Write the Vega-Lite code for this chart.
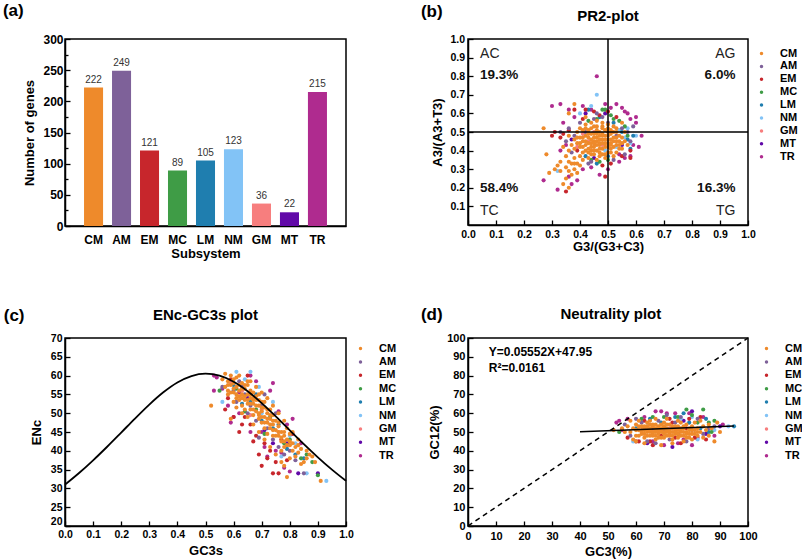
{
"$schema":"https://vega.github.io/schema/vega-lite/v6.json",
"padding":{"left":2,"top":1,"right":0,"bottom":0},
"background":"white",
"columns":2,
"bounds":"flush",
"spacing":{"row":112,"column":122},
"resolve":{"scale":{"color":"independent"},"legend":{"color":"independent"}},
"config":{
 "font":"Liberation Sans",
 "view":{"stroke":"#000","strokeWidth":1.5},
 "axis":{"grid":false,"domainColor":"#000","domainWidth":1.5,"tickColor":"#000","tickWidth":1.3,"tickSize":-5,"labelFont":"Liberation Sans","labelFontWeight":"bold","labelFontSize":10.5,"labelColor":"#000","labelPadding":8,"labelFlush":false,"labelOverlap":false,"titleFont":"Liberation Sans","titleFontWeight":"bold","titleFontSize":13,"titleColor":"#000"},
 "legend":{"labelFont":"Liberation Sans","labelFontWeight":"bold","labelFontSize":11,"labelColor":"#000","symbolType":"circle","symbolSize":12,"symbolStrokeWidth":0,"rowPadding":2,"labelOffset":13},
 "text":{"font":"Liberation Sans"}
},
"datasets":{
 "bars":[{"g":"CM","n":222},{"g":"AM","n":249},{"g":"EM","n":121},{"g":"MC","n":89},{"g":"LM","n":105},{"g":"NM","n":123},{"g":"GM","n":36},{"g":"MT","n":22},{"g":"TR","n":215}],
 "pr2":[
{"g":"TR","x":0.46,"y":0.80},{"g":"TR","x":0.30,"y":0.64},{"g":"TR","x":0.33,"y":0.65},{"g":"TR","x":0.36,"y":0.62},{"g":"TR","x":0.53,"y":0.65},{"g":"TR","x":0.55,"y":0.63},{"g":"TR","x":0.60,"y":0.58},{"g":"TR","x":0.62,"y":0.48},{"g":"TR","x":0.32,"y":0.19},{"g":"TR","x":0.27,"y":0.24},{"g":"TR","x":0.56,"y":0.61},{"g":"TR","x":0.58,"y":0.57},{"g":"TR","x":0.49,"y":0.65},{"g":"TR","x":0.34,"y":0.55},{"g":"TR","x":0.35,"y":0.43},{"g":"TR","x":0.39,"y":0.24},{"g":"TR","x":0.37,"y":0.22},{"g":"TR","x":0.47,"y":0.27},{"g":"TR","x":0.50,"y":0.30},{"g":"TR","x":0.54,"y":0.34},{"g":"TR","x":0.56,"y":0.36},{"g":"TR","x":0.58,"y":0.37},{"g":"TR","x":0.61,"y":0.42},{"g":"TR","x":0.60,"y":0.55},{"g":"TR","x":0.57,"y":0.60},{"g":"TR","x":0.51,"y":0.63},{"g":"TR","x":0.44,"y":0.62},{"g":"TR","x":0.41,"y":0.64},{"g":"TR","x":0.38,"y":0.58},{"g":"TR","x":0.33,"y":0.40},{"g":"TR","x":0.36,"y":0.26},{"g":"TR","x":0.41,"y":0.30},{"g":"TR","x":0.44,"y":0.31},{"g":"TR","x":0.54,"y":0.38},{"g":"TR","x":0.59,"y":0.43},
{"g":"MT","x":0.49,"y":0.60},{"g":"MT","x":0.42,"y":0.60},{"g":"MT","x":0.55,"y":0.43},{"g":"MT","x":0.37,"y":0.46},{"g":"MT","x":0.45,"y":0.36},
{"g":"GM","x":0.45,"y":0.50},{"g":"GM","x":0.43,"y":0.45},{"g":"GM","x":0.48,"y":0.43},{"g":"GM","x":0.41,"y":0.49},{"g":"GM","x":0.39,"y":0.42},
{"g":"NM","x":0.46,"y":0.70},{"g":"NM","x":0.44,"y":0.64},{"g":"NM","x":0.60,"y":0.48},{"g":"NM","x":0.32,"y":0.29},{"g":"NM","x":0.58,"y":0.44},{"g":"NM","x":0.54,"y":0.51},{"g":"NM","x":0.56,"y":0.47},{"g":"NM","x":0.40,"y":0.60},{"g":"NM","x":0.57,"y":0.52},{"g":"NM","x":0.53,"y":0.42},{"g":"NM","x":0.49,"y":0.40},
{"g":"LM","x":0.43,"y":0.62},{"g":"LM","x":0.58,"y":0.41},{"g":"LM","x":0.57,"y":0.46},{"g":"LM","x":0.55,"y":0.50},{"g":"LM","x":0.52,"y":0.55},{"g":"LM","x":0.47,"y":0.58},{"g":"LM","x":0.46,"y":0.33},{"g":"LM","x":0.50,"y":0.37},{"g":"LM","x":0.59,"y":0.48},{"g":"LM","x":0.42,"y":0.37},
{"g":"MC","x":0.48,"y":0.62},{"g":"MC","x":0.49,"y":0.62},{"g":"MC","x":0.52,"y":0.57},{"g":"MC","x":0.54,"y":0.56},{"g":"MC","x":0.44,"y":0.35},{"g":"MC","x":0.47,"y":0.34},{"g":"MC","x":0.50,"y":0.35},{"g":"MC","x":0.56,"y":0.53},{"g":"MC","x":0.57,"y":0.48},{"g":"MC","x":0.46,"y":0.57},{"g":"MC","x":0.43,"y":0.56},{"g":"MC","x":0.51,"y":0.59},
{"g":"EM","x":0.38,"y":0.62},{"g":"EM","x":0.42,"y":0.62},{"g":"EM","x":0.49,"y":0.26},{"g":"EM","x":0.35,"y":0.18},{"g":"EM","x":0.58,"y":0.36},{"g":"EM","x":0.58,"y":0.40},{"g":"EM","x":0.34,"y":0.49},{"g":"EM","x":0.33,"y":0.47},{"g":"EM","x":0.36,"y":0.51},{"g":"EM","x":0.45,"y":0.61},{"g":"EM","x":0.50,"y":0.61},{"g":"EM","x":0.51,"y":0.33},{"g":"EM","x":0.48,"y":0.32},{"g":"EM","x":0.41,"y":0.57},{"g":"EM","x":0.55,"y":0.37},{"g":"EM","x":0.39,"y":0.40},{"g":"EM","x":0.47,"y":0.59},{"g":"EM","x":0.31,"y":0.50},{"g":"EM","x":0.30,"y":0.48},{"g":"EM","x":0.53,"y":0.58},
{"g":"AM","x":0.42,"y":0.50},{"g":"AM","x":0.45,"y":0.57},{"g":"AM","x":0.50,"y":0.55},{"g":"AM","x":0.53,"y":0.48},{"g":"AM","x":0.55,"y":0.52},{"g":"AM","x":0.57,"y":0.50},{"g":"AM","x":0.48,"y":0.58},{"g":"AM","x":0.40,"y":0.55},{"g":"AM","x":0.38,"y":0.48},{"g":"AM","x":0.37,"y":0.39},{"g":"AM","x":0.44,"y":0.34},{"g":"AM","x":0.52,"y":0.35},{"g":"AM","x":0.56,"y":0.38},{"g":"AM","x":0.58,"y":0.45},{"g":"AM","x":0.59,"y":0.53},{"g":"AM","x":0.35,"y":0.45},{"g":"AM","x":0.33,"y":0.50},{"g":"AM","x":0.46,"y":0.60},{"g":"AM","x":0.43,"y":0.33},{"g":"AM","x":0.36,"y":0.52},
{"g":"CM","x":0.40,"y":0.42},{"g":"CM","x":0.41,"y":0.45},{"g":"CM","x":0.42,"y":0.40},{"g":"CM","x":0.42,"y":0.48},{"g":"CM","x":0.43,"y":0.44},{"g":"CM","x":0.43,"y":0.51},{"g":"CM","x":0.44,"y":0.38},{"g":"CM","x":0.44,"y":0.46},{"g":"CM","x":0.45,"y":0.42},{"g":"CM","x":0.45,"y":0.49},{"g":"CM","x":0.45,"y":0.53},{"g":"CM","x":0.46,"y":0.40},{"g":"CM","x":0.46,"y":0.45},{"g":"CM","x":0.46,"y":0.47},{"g":"CM","x":0.47,"y":0.43},{"g":"CM","x":0.47,"y":0.50},{"g":"CM","x":0.47,"y":0.37},{"g":"CM","x":0.48,"y":0.46},{"g":"CM","x":0.48,"y":0.41},{"g":"CM","x":0.48,"y":0.52},{"g":"CM","x":0.49,"y":0.44},{"g":"CM","x":0.49,"y":0.48},{"g":"CM","x":0.50,"y":0.42},{"g":"CM","x":0.50,"y":0.46},{"g":"CM","x":0.50,"y":0.39},{"g":"CM","x":0.51,"y":0.44},{"g":"CM","x":0.51,"y":0.49},{"g":"CM","x":0.52,"y":0.47},{"g":"CM","x":0.52,"y":0.42},{"g":"CM","x":0.53,"y":0.45},{"g":"CM","x":0.53,"y":0.50},{"g":"CM","x":0.54,"y":0.43},{"g":"CM","x":0.55,"y":0.47},{"g":"CM","x":0.44,"y":0.42},{"g":"CM","x":0.43,"y":0.47},{"g":"CM","x":0.41,"y":0.39},{"g":"CM","x":0.40,"y":0.47},{"g":"CM","x":0.39,"y":0.44},{"g":"CM","x":0.39,"y":0.50},{"g":"CM","x":0.38,"y":0.41},{"g":"CM","x":0.38,"y":0.46},{"g":"CM","x":0.37,"y":0.43},{"g":"CM","x":0.36,"y":0.40},{"g":"CM","x":0.36,"y":0.48},{"g":"CM","x":0.40,"y":0.52},{"g":"CM","x":0.42,"y":0.54},{"g":"CM","x":0.44,"y":0.55},{"g":"CM","x":0.46,"y":0.56},{"g":"CM","x":0.48,"y":0.55},{"g":"CM","x":0.50,"y":0.54},{"g":"CM","x":0.52,"y":0.53},{"g":"CM","x":0.49,"y":0.36},{"g":"CM","x":0.46,"y":0.35},{"g":"CM","x":0.43,"y":0.36},{"g":"CM","x":0.41,"y":0.35},{"g":"CM","x":0.40,"y":0.37},{"g":"CM","x":0.53,"y":0.39},{"g":"CM","x":0.55,"y":0.41},{"g":"CM","x":0.56,"y":0.45},{"g":"CM","x":0.57,"y":0.43},{"g":"CM","x":0.42,"y":0.43},{"g":"CM","x":0.45,"y":0.45},{"g":"CM","x":0.47,"y":0.46},{"g":"CM","x":0.44,"y":0.49},{"g":"CM","x":0.46,"y":0.51},{"g":"CM","x":0.48,"y":0.49},{"g":"CM","x":0.49,"y":0.51},{"g":"CM","x":0.51,"y":0.46},{"g":"CM","x":0.50,"y":0.50},{"g":"CM","x":0.47,"y":0.41},{"g":"CM","x":0.43,"y":0.41},{"g":"CM","x":0.41,"y":0.42},{"g":"CM","x":0.45,"y":0.38},{"g":"CM","x":0.48,"y":0.38},{"g":"CM","x":0.51,"y":0.41},{"g":"CM","x":0.52,"y":0.37},{"g":"CM","x":0.54,"y":0.48},{"g":"CM","x":0.53,"y":0.52},{"g":"CM","x":0.38,"y":0.36},{"g":"CM","x":0.37,"y":0.33},{"g":"CM","x":0.35,"y":0.37},{"g":"CM","x":0.39,"y":0.33},{"g":"CM","x":0.34,"y":0.42},{"g":"CM","x":0.27,"y":0.52},{"g":"CM","x":0.28,"y":0.38},{"g":"CM","x":0.29,"y":0.28},{"g":"CM","x":0.31,"y":0.30},{"g":"CM","x":0.32,"y":0.32},{"g":"CM","x":0.33,"y":0.29},{"g":"CM","x":0.34,"y":0.22},{"g":"CM","x":0.35,"y":0.25},{"g":"CM","x":0.36,"y":0.20},{"g":"CM","x":0.36,"y":0.29},{"g":"CM","x":0.37,"y":0.27},{"g":"CM","x":0.38,"y":0.30},{"g":"CM","x":0.39,"y":0.28},{"g":"CM","x":0.35,"y":0.31},{"g":"CM","x":0.33,"y":0.34},{"g":"CM","x":0.36,"y":0.34},{"g":"CM","x":0.38,"y":0.33},{"g":"CM","x":0.40,"y":0.32},{"g":"CM","x":0.38,"y":0.65},{"g":"CM","x":0.36,"y":0.60},{"g":"CM","x":0.42,"y":0.58},{"g":"CM","x":0.55,"y":0.55},
{"g":"CM","x":0.41,"y":0.47},{"g":"CM","x":0.42,"y":0.45},{"g":"CM","x":0.43,"y":0.49},{"g":"CM","x":0.44,"y":0.44},{"g":"CM","x":0.44,"y":0.40},{"g":"CM","x":0.45,"y":0.47},{"g":"CM","x":0.45,"y":0.44},{"g":"CM","x":0.46,"y":0.43},{"g":"CM","x":0.46,"y":0.49},{"g":"CM","x":0.47,"y":0.48},{"g":"CM","x":0.47,"y":0.44},{"g":"CM","x":0.48,"y":0.44},{"g":"CM","x":0.48,"y":0.48},{"g":"CM","x":0.49,"y":0.46},{"g":"CM","x":0.49,"y":0.42},{"g":"CM","x":0.50,"y":0.44},{"g":"CM","x":0.50,"y":0.48},{"g":"CM","x":0.51,"y":0.43},{"g":"CM","x":0.51,"y":0.51},{"g":"CM","x":0.52,"y":0.45},{"g":"CM","x":0.52,"y":0.50},{"g":"CM","x":0.53,"y":0.47},{"g":"CM","x":0.54,"y":0.45},{"g":"CM","x":0.54,"y":0.41},{"g":"CM","x":0.42,"y":0.52},{"g":"CM","x":0.44,"y":0.52},{"g":"CM","x":0.46,"y":0.53},{"g":"CM","x":0.48,"y":0.53},{"g":"CM","x":0.50,"y":0.52},{"g":"CM","x":0.47,"y":0.39},{"g":"CM","x":0.45,"y":0.40},{"g":"CM","x":0.43,"y":0.39},{"g":"CM","x":0.49,"y":0.38},{"g":"CM","x":0.51,"y":0.39},{"g":"CM","x":0.40,"y":0.44},{"g":"CM","x":0.39,"y":0.47},{"g":"CM","x":0.41,"y":0.51},{"g":"CM","x":0.53,"y":0.43},{"g":"CM","x":0.55,"y":0.44},{"g":"CM","x":0.56,"y":0.50}
 ],
 "enc":[
{"g":"TR","x":0.53,"y":60},{"g":"TR","x":0.54,"y":59.5},{"g":"TR","x":0.53,"y":56},{"g":"TR","x":0.66,"y":60},{"g":"TR","x":0.73,"y":56},{"g":"TR","x":0.74,"y":58},{"g":"TR","x":0.60,"y":49},{"g":"TR","x":0.59,"y":47.5},{"g":"TR","x":0.56,"y":56.5},{"g":"TR","x":0.72,"y":38.5},{"g":"TR","x":0.78,"y":35.5},{"g":"TR","x":0.80,"y":34.5},{"g":"TR","x":0.81,"y":48.5},{"g":"TR","x":0.79,"y":47},{"g":"TR","x":0.76,"y":50.5},{"g":"TR","x":0.66,"y":45},{"g":"TR","x":0.62,"y":55.5},{"g":"TR","x":0.68,"y":58.5},{"g":"TR","x":0.71,"y":41},{"g":"TR","x":0.75,"y":40},{"g":"TR","x":0.84,"y":42},{"g":"TR","x":0.58,"y":52},{"g":"TR","x":0.62,"y":50},{"g":"TR","x":0.70,"y":45},{"g":"TR","x":0.77,"y":39.5},
{"g":"MT","x":0.90,"y":34},{"g":"MT","x":0.83,"y":34},{"g":"MT","x":0.71,"y":45.5},{"g":"MT","x":0.74,"y":42},{"g":"MT","x":0.65,"y":54},{"g":"MT","x":0.79,"y":42},
{"g":"GM","x":0.63,"y":56},{"g":"GM","x":0.70,"y":51},{"g":"GM","x":0.76,"y":45},{"g":"GM","x":0.66,"y":49.5},{"g":"GM","x":0.59,"y":58},
{"g":"NM","x":0.56,"y":53},{"g":"NM","x":0.66,"y":61},{"g":"NM","x":0.61,"y":61},{"g":"NM","x":0.93,"y":32},{"g":"NM","x":0.86,"y":34},{"g":"NM","x":0.74,"y":53},{"g":"NM","x":0.70,"y":50},{"g":"NM","x":0.80,"y":44},{"g":"NM","x":0.82,"y":42},{"g":"NM","x":0.77,"y":38.5},{"g":"NM","x":0.69,"y":57},{"g":"NM","x":0.64,"y":59},
{"g":"LM","x":0.60,"y":57.5},{"g":"LM","x":0.66,"y":53},{"g":"LM","x":0.70,"y":48},{"g":"LM","x":0.74,"y":46},{"g":"LM","x":0.79,"y":40.5},{"g":"LM","x":0.82,"y":39},{"g":"LM","x":0.85,"y":38},{"g":"LM","x":0.76,"y":47},{"g":"LM","x":0.68,"y":55},{"g":"LM","x":0.63,"y":52.5},
{"g":"MC","x":0.55,"y":56},{"g":"MC","x":0.64,"y":50.5},{"g":"MC","x":0.71,"y":44.5},{"g":"MC","x":0.78,"y":42},{"g":"MC","x":0.84,"y":38},{"g":"MC","x":0.88,"y":37},{"g":"MC","x":0.90,"y":33.5},{"g":"MC","x":0.86,"y":39},{"g":"MC","x":0.80,"y":43},{"g":"MC","x":0.73,"y":49},{"g":"MC","x":0.68,"y":51},{"g":"MC","x":0.61,"y":56.5},
{"g":"EM","x":0.57,"y":51},{"g":"EM","x":0.62,"y":45},{"g":"EM","x":0.70,"y":36},{"g":"EM","x":0.74,"y":34},{"g":"EM","x":0.76,"y":34},{"g":"EM","x":0.72,"y":38},{"g":"EM","x":0.71,"y":42},{"g":"EM","x":0.68,"y":44},{"g":"EM","x":0.73,"y":40},{"g":"EM","x":0.66,"y":47},{"g":"EM","x":0.64,"y":49},{"g":"EM","x":0.69,"y":39},{"g":"EM","x":0.75,"y":37},{"g":"EM","x":0.79,"y":37.5},{"g":"EM","x":0.81,"y":44.5},{"g":"EM","x":0.60,"y":49},{"g":"EM","x":0.58,"y":54},{"g":"EM","x":0.67,"y":42.5},{"g":"EM","x":0.77,"y":43},{"g":"EM","x":0.63,"y":47},{"g":"EM","x":0.65,"y":60},{"g":"EM","x":0.59,"y":59},
{"g":"AM","x":0.56,"y":57},{"g":"AM","x":0.60,"y":56},{"g":"AM","x":0.62,"y":58.5},{"g":"AM","x":0.64,"y":55},{"g":"AM","x":0.66,"y":52},{"g":"AM","x":0.68,"y":48},{"g":"AM","x":0.70,"y":52},{"g":"AM","x":0.72,"y":46},{"g":"AM","x":0.74,"y":43},{"g":"AM","x":0.76,"y":41},{"g":"AM","x":0.78,"y":39},{"g":"AM","x":0.80,"y":40},{"g":"AM","x":0.82,"y":37.5},{"g":"AM","x":0.85,"y":34},{"g":"AM","x":0.71,"y":55},{"g":"AM","x":0.65,"y":50},{"g":"AM","x":0.69,"y":43.5},{"g":"AM","x":0.75,"y":50},{"g":"AM","x":0.63,"y":57},{"g":"AM","x":0.61,"y":53},
{"g":"CM","x":0.56,"y":59},{"g":"CM","x":0.57,"y":60.5},{"g":"CM","x":0.57,"y":57},{"g":"CM","x":0.58,"y":58.5},{"g":"CM","x":0.58,"y":56},{"g":"CM","x":0.59,"y":60},{"g":"CM","x":0.59,"y":57.5},{"g":"CM","x":0.60,"y":58},{"g":"CM","x":0.60,"y":55.5},{"g":"CM","x":0.61,"y":57},{"g":"CM","x":0.61,"y":54},{"g":"CM","x":0.61,"y":59.5},{"g":"CM","x":0.62,"y":56},{"g":"CM","x":0.62,"y":53.5},{"g":"CM","x":0.63,"y":58},{"g":"CM","x":0.63,"y":55},{"g":"CM","x":0.63,"y":52},{"g":"CM","x":0.64,"y":56.5},{"g":"CM","x":0.64,"y":53.5},{"g":"CM","x":0.65,"y":55},{"g":"CM","x":0.65,"y":52.5},{"g":"CM","x":0.65,"y":57.5},{"g":"CM","x":0.66,"y":54},{"g":"CM","x":0.66,"y":51},{"g":"CM","x":0.67,"y":55.5},{"g":"CM","x":0.67,"y":52.5},{"g":"CM","x":0.67,"y":49.5},{"g":"CM","x":0.68,"y":53.5},{"g":"CM","x":0.68,"y":50.5},{"g":"CM","x":0.69,"y":52},{"g":"CM","x":0.69,"y":48.5},{"g":"CM","x":0.69,"y":55},{"g":"CM","x":0.70,"y":50.5},{"g":"CM","x":0.70,"y":47.5},{"g":"CM","x":0.70,"y":53},{"g":"CM","x":0.71,"y":49},{"g":"CM","x":0.71,"y":51.5},{"g":"CM","x":0.71,"y":46},{"g":"CM","x":0.72,"y":50},{"g":"CM","x":0.72,"y":47.5},{"g":"CM","x":0.72,"y":44.5},{"g":"CM","x":0.73,"y":48.5},{"g":"CM","x":0.73,"y":46},{"g":"CM","x":0.74,"y":47},{"g":"CM","x":0.74,"y":44},{"g":"CM","x":0.74,"y":49.5},{"g":"CM","x":0.75,"y":45.5},{"g":"CM","x":0.75,"y":48},{"g":"CM","x":0.76,"y":46.5},{"g":"CM","x":0.76,"y":44},{"g":"CM","x":0.77,"y":45},{"g":"CM","x":0.77,"y":42.5},{"g":"CM","x":0.78,"y":44},{"g":"CM","x":0.78,"y":41},{"g":"CM","x":0.79,"y":43},{"g":"CM","x":0.80,"y":41.5},{"g":"CM","x":0.80,"y":44.5},{"g":"CM","x":0.81,"y":40},{"g":"CM","x":0.82,"y":41},{"g":"CM","x":0.82,"y":38.5},{"g":"CM","x":0.83,"y":39.5},{"g":"CM","x":0.84,"y":40.5},{"g":"CM","x":0.85,"y":37},{"g":"CM","x":0.86,"y":38},{"g":"CM","x":0.87,"y":39},{"g":"CM","x":0.88,"y":38.5},{"g":"CM","x":0.91,"y":32},{"g":"CM","x":0.79,"y":33},{"g":"CM","x":0.78,"y":36},{"g":"CM","x":0.77,"y":37},{"g":"CM","x":0.75,"y":39},{"g":"CM","x":0.73,"y":41},{"g":"CM","x":0.71,"y":43},{"g":"CM","x":0.69,"y":45},{"g":"CM","x":0.67,"y":47},{"g":"CM","x":0.65,"y":49},{"g":"CM","x":0.63,"y":50},{"g":"CM","x":0.61,"y":51.5},{"g":"CM","x":0.52,"y":52},{"g":"CM","x":0.59,"y":48.5},{"g":"CM","x":0.62,"y":60},{"g":"CM","x":0.66,"y":58.5},{"g":"CM","x":0.68,"y":57},{"g":"CM","x":0.72,"y":54},{"g":"CM","x":0.74,"y":52},{"g":"CM","x":0.76,"y":50},{"g":"CM","x":0.78,"y":48},{"g":"CM","x":0.60,"y":53},{"g":"CM","x":0.64,"y":51},{"g":"CM","x":0.66,"y":56},{"g":"CM","x":0.70,"y":55.5},{"g":"CM","x":0.73,"y":51},{"g":"CM","x":0.69,"y":50},{"g":"CM","x":0.67,"y":53.5},{"g":"CM","x":0.63,"y":54},{"g":"CM","x":0.58,"y":55},{"g":"CM","x":0.79,"y":46},{"g":"CM","x":0.81,"y":45},{"g":"CM","x":0.83,"y":43},{"g":"CM","x":0.86,"y":40},{"g":"CM","x":0.80,"y":38},{"g":"CM","x":0.84,"y":36.5},{"g":"CM","x":0.89,"y":37},{"g":"CM","x":0.77,"y":40},
{"g":"CM","x":0.58,"y":57.5},{"g":"CM","x":0.60,"y":56.5},{"g":"CM","x":0.62,"y":57.5},{"g":"CM","x":0.62,"y":54.5},{"g":"CM","x":0.64,"y":54.5},{"g":"CM","x":0.64,"y":57.5},{"g":"CM","x":0.66,"y":55},{"g":"CM","x":0.66,"y":52.5},{"g":"CM","x":0.68,"y":52},{"g":"CM","x":0.68,"y":54.5},{"g":"CM","x":0.70,"y":51.5},{"g":"CM","x":0.70,"y":49},{"g":"CM","x":0.72,"y":48.5},{"g":"CM","x":0.72,"y":51},{"g":"CM","x":0.74,"y":45.5},{"g":"CM","x":0.74,"y":48},{"g":"CM","x":0.76,"y":45},{"g":"CM","x":0.76,"y":47.5},{"g":"CM","x":0.78,"y":42.5},{"g":"CM","x":0.78,"y":45},{"g":"CM","x":0.60,"y":59},{"g":"CM","x":0.63,"y":56.5},{"g":"CM","x":0.65,"y":53.5},{"g":"CM","x":0.67,"y":51},{"g":"CM","x":0.69,"y":49.5},{"g":"CM","x":0.71,"y":47.5},{"g":"CM","x":0.73,"y":47},{"g":"CM","x":0.75,"y":44},{"g":"CM","x":0.77,"y":43.5},{"g":"CM","x":0.79,"y":41.5},{"g":"CM","x":0.59,"y":55.5},{"g":"CM","x":0.61,"y":55},{"g":"CM","x":0.67,"y":54},{"g":"CM","x":0.71,"y":53},{"g":"CM","x":0.73,"y":49.5},{"g":"CM","x":0.80,"y":42.5},{"g":"CM","x":0.81,"y":42},{"g":"CM","x":0.83,"y":41.5},{"g":"CM","x":0.65,"y":58.5},{"g":"CM","x":0.69,"y":53.5}
 ],
 "curve":[{"x":0,"y":31.0},{"x":0.05,"y":34.09},{"x":0.1,"y":37.47},{"x":0.15,"y":41.08},{"x":0.2,"y":44.85},{"x":0.25,"y":48.65},{"x":0.3,"y":52.3},{"x":0.35,"y":55.56},{"x":0.4,"y":58.17},{"x":0.45,"y":59.88},{"x":0.5,"y":60.5},{"x":0.55,"y":59.98},{"x":0.6,"y":58.37},{"x":0.65,"y":55.86},{"x":0.7,"y":52.7},{"x":0.75,"y":49.15},{"x":0.8,"y":45.45},{"x":0.85,"y":41.78},{"x":0.9,"y":38.27},{"x":0.95,"y":34.99},{"x":1,"y":32.0}],
 "neu":[
{"g":"TR","x":53,"y":55},{"g":"TR","x":54,"y":56},{"g":"TR","x":60,"y":45},{"g":"TR","x":80,"y":43},{"g":"TR","x":70,"y":43},{"g":"TR","x":67,"y":61},{"g":"TR","x":69,"y":61},{"g":"TR","x":75,"y":44},{"g":"TR","x":82,"y":47},{"g":"TR","x":71,"y":60},{"g":"TR","x":63,"y":58},{"g":"TR","x":57,"y":57},{"g":"TR","x":77,"y":46},{"g":"TR","x":79,"y":60},{"g":"TR","x":84,"y":58},{"g":"TR","x":66,"y":45},{"g":"TR","x":55,"y":51},{"g":"TR","x":88,"y":48},{"g":"TR","x":91,"y":54},{"g":"TR","x":74,"y":60},
{"g":"MT","x":80,"y":61},{"g":"MT","x":73,"y":42},{"g":"MT","x":64,"y":44},{"g":"MT","x":77,"y":56},{"g":"MT","x":85,"y":49},{"g":"MT","x":90,"y":53},
{"g":"GM","x":68,"y":50},{"g":"GM","x":72,"y":52},{"g":"GM","x":66,"y":51},{"g":"GM","x":74,"y":50},
{"g":"NM","x":93,"y":53},{"g":"NM","x":59,"y":45},{"g":"NM","x":82,"y":46},{"g":"NM","x":76,"y":57},{"g":"NM","x":70,"y":49},{"g":"NM","x":64,"y":53},{"g":"NM","x":88,"y":51},{"g":"NM","x":80,"y":58},
{"g":"LM","x":95,"y":53},{"g":"LM","x":86,"y":50},{"g":"LM","x":83,"y":52},{"g":"LM","x":79,"y":55},{"g":"LM","x":74,"y":58},{"g":"LM","x":69,"y":55},{"g":"LM","x":65,"y":57},{"g":"LM","x":60,"y":52},{"g":"LM","x":77,"y":60},{"g":"LM","x":85,"y":57},
{"g":"MC","x":78,"y":62},{"g":"MC","x":84,"y":62},{"g":"MC","x":86,"y":55},{"g":"MC","x":88,"y":56},{"g":"MC","x":87,"y":50},{"g":"MC","x":80,"y":59},{"g":"MC","x":75,"y":58},{"g":"MC","x":70,"y":58},{"g":"MC","x":66,"y":58},{"g":"MC","x":62,"y":57},{"g":"MC","x":54,"y":50},{"g":"MC","x":82,"y":55},
{"g":"EM","x":57,"y":47},{"g":"EM","x":61,"y":45},{"g":"EM","x":66,"y":43},{"g":"EM","x":72,"y":57},{"g":"EM","x":76,"y":44},{"g":"EM","x":79,"y":57},{"g":"EM","x":83,"y":58},{"g":"EM","x":85,"y":46},{"g":"EM","x":69,"y":48},{"g":"EM","x":73,"y":55},{"g":"EM","x":63,"y":56},{"g":"EM","x":78,"y":52},{"g":"EM","x":81,"y":47},{"g":"EM","x":65,"y":45},{"g":"EM","x":74,"y":47},
{"g":"AM","x":56,"y":54},{"g":"AM","x":60,"y":57},{"g":"AM","x":64,"y":45},{"g":"AM","x":68,"y":56},{"g":"AM","x":72,"y":46},{"g":"AM","x":76,"y":58},{"g":"AM","x":80,"y":51},{"g":"AM","x":84,"y":49},{"g":"AM","x":66,"y":52},{"g":"AM","x":74,"y":55},{"g":"AM","x":78,"y":45},{"g":"AM","x":62,"y":55},{"g":"AM","x":70,"y":51},{"g":"AM","x":82,"y":57},{"g":"AM","x":58,"y":48},{"g":"AM","x":86,"y":52},{"g":"AM","x":88,"y":53},{"g":"AM","x":75,"y":49},{"g":"AM","x":67,"y":44},{"g":"AM","x":71,"y":59},
{"g":"CM","x":58,"y":50},{"g":"CM","x":59,"y":52},{"g":"CM","x":60,"y":48},{"g":"CM","x":60,"y":54},{"g":"CM","x":61,"y":51},{"g":"CM","x":62,"y":49},{"g":"CM","x":62,"y":53},{"g":"CM","x":63,"y":47},{"g":"CM","x":63,"y":51},{"g":"CM","x":64,"y":55},{"g":"CM","x":64,"y":50},{"g":"CM","x":65,"y":52},{"g":"CM","x":65,"y":48},{"g":"CM","x":66,"y":54},{"g":"CM","x":66,"y":50},{"g":"CM","x":67,"y":46},{"g":"CM","x":67,"y":52},{"g":"CM","x":68,"y":49},{"g":"CM","x":68,"y":53},{"g":"CM","x":69,"y":51},{"g":"CM","x":69,"y":47},{"g":"CM","x":70,"y":55},{"g":"CM","x":70,"y":50},{"g":"CM","x":71,"y":52},{"g":"CM","x":71,"y":48},{"g":"CM","x":72,"y":54},{"g":"CM","x":72,"y":50},{"g":"CM","x":73,"y":46},{"g":"CM","x":73,"y":52},{"g":"CM","x":74,"y":49},{"g":"CM","x":74,"y":53},{"g":"CM","x":75,"y":51},{"g":"CM","x":75,"y":47},{"g":"CM","x":76,"y":55},{"g":"CM","x":76,"y":50},{"g":"CM","x":77,"y":52},{"g":"CM","x":77,"y":48},{"g":"CM","x":78,"y":50},{"g":"CM","x":78,"y":54},{"g":"CM","x":79,"y":51},{"g":"CM","x":80,"y":49},{"g":"CM","x":80,"y":53},{"g":"CM","x":81,"y":51},{"g":"CM","x":82,"y":48},{"g":"CM","x":82,"y":52},{"g":"CM","x":83,"y":50},{"g":"CM","x":84,"y":53},{"g":"CM","x":85,"y":51},{"g":"CM","x":86,"y":54},{"g":"CM","x":88,"y":45},{"g":"CM","x":90,"y":50},{"g":"CM","x":57,"y":53},{"g":"CM","x":56,"y":50},{"g":"CM","x":55,"y":52},{"g":"CM","x":59,"y":46},{"g":"CM","x":61,"y":56},{"g":"CM","x":63,"y":44},{"g":"CM","x":65,"y":56},{"g":"CM","x":67,"y":57},{"g":"CM","x":69,"y":43},{"g":"CM","x":71,"y":57},{"g":"CM","x":73,"y":44},{"g":"CM","x":75,"y":56},{"g":"CM","x":77,"y":45},{"g":"CM","x":79,"y":47},{"g":"CM","x":81,"y":55},{"g":"CM","x":66,"y":48},{"g":"CM","x":68,"y":51},{"g":"CM","x":70,"y":52},{"g":"CM","x":72,"y":49},{"g":"CM","x":74,"y":51},{"g":"CM","x":64,"y":51},{"g":"CM","x":62,"y":51},{"g":"CM","x":76,"y":52},{"g":"CM","x":78,"y":47},{"g":"CM","x":80,"y":46},{"g":"CM","x":84,"y":47},{"g":"CM","x":87,"y":52},{"g":"CM","x":89,"y":55},{"g":"CM","x":58,"y":56},{"g":"CM","x":60,"y":45},{"g":"CM","x":67,"y":50},{"g":"CM","x":69,"y":54},{"g":"CM","x":71,"y":50},{"g":"CM","x":73,"y":50},{"g":"CM","x":75,"y":53},{"g":"CM","x":65,"y":50},{"g":"CM","x":63,"y":53},{"g":"CM","x":70,"y":47},{"g":"CM","x":52,"y":51},{"g":"CM","x":86,"y":48},{"g":"CM","x":83,"y":56},
{"g":"CM","x":60,"y":51},{"g":"CM","x":61,"y":53},{"g":"CM","x":62,"y":50},{"g":"CM","x":63,"y":52},{"g":"CM","x":64,"y":48},{"g":"CM","x":64,"y":53},{"g":"CM","x":65,"y":51},{"g":"CM","x":66,"y":49},{"g":"CM","x":66,"y":53},{"g":"CM","x":67,"y":51},{"g":"CM","x":67,"y":48},{"g":"CM","x":68,"y":52},{"g":"CM","x":68,"y":47},{"g":"CM","x":69,"y":50},{"g":"CM","x":69,"y":52},{"g":"CM","x":70,"y":49},{"g":"CM","x":70,"y":53},{"g":"CM","x":71,"y":51},{"g":"CM","x":72,"y":51},{"g":"CM","x":72,"y":48},{"g":"CM","x":73,"y":53},{"g":"CM","x":73,"y":48},{"g":"CM","x":74,"y":50},{"g":"CM","x":75,"y":52},{"g":"CM","x":75,"y":49},{"g":"CM","x":76,"y":51},{"g":"CM","x":77,"y":50},{"g":"CM","x":77,"y":53},{"g":"CM","x":78,"y":49},{"g":"CM","x":79,"y":52},{"g":"CM","x":79,"y":49},{"g":"CM","x":80,"y":51},{"g":"CM","x":81,"y":49},{"g":"CM","x":61,"y":48},{"g":"CM","x":63,"y":49},{"g":"CM","x":65,"y":54},{"g":"CM","x":67,"y":54},{"g":"CM","x":71,"y":54},{"g":"CM","x":76,"y":48},{"g":"CM","x":82,"y":50}
 ]
},
"concat":[
 {
  "width":281,"height":187,
  "resolve":{"scale":{"x":"independent"}},
  "layer":[
   {
    "data":{"name":"bars"},
    "encoding":{
     "x":{"field":"g","type":"nominal","sort":null,"scale":{"paddingInner":0.32,"paddingOuter":0.68},"axis":{"title":"Subsystem","labelAngle":0,"ticks":false,"labelFontSize":12,"labelPadding":8,"titlePadding":2,"labelOverlap":false}},
     "y":{"field":"n","type":"quantitative","scale":{"domain":[0,300],"nice":false},"axis":{"title":"Number of genes","values":[0,25,50,75,100,125,150,175,200,225,250,275,300],"tickCount":30,"labelExpr":"datum.value % 50 == 0 ? datum.label : ''","tickSize":{"condition":{"test":"datum.value % 50 == 0","value":-5},"value":-3},"labelFontSize":12,"labelPadding":7,"titlePadding":6,"labelOverlap":false}}
    },
    "layer":[
     {"mark":{"type":"bar"},"encoding":{"color":{"field":"g","type":"nominal","scale":{"domain":["CM","AM","EM","MC","LM","NM","GM","MT","TR"],"range":["#EE8A2B","#7E6199","#C7262C","#3F9C46","#1F7EAF","#82C3F6","#F77E7E","#6109A8","#AF2B8F"]},"legend":null}}},
     {"mark":{"type":"text","baseline":"bottom","dy":-3,"fontSize":10,"color":"#333"},"encoding":{"text":{"field":"n","type":"quantitative"}}}
    ]
   },
   {"data":{"values":[{}]},"mark":{"type":"text","align":"left","baseline":"middle","fontSize":17,"fontWeight":"bold","color":"#000"},
    "encoding":{"x":{"datum":-0.221,"type":"quantitative","scale":{"domain":[0,1]},"axis":null},"y":{"datum":344.9,"type":"quantitative"},"text":{"value":"(a)"}}}
  ]
 },
 {
  "width":280,"height":186,
  "layer":[
   {"data":{"name":"pr2"},"mark":{"type":"circle","size":17,"opacity":1},
    "encoding":{
     "x":{"field":"x","type":"quantitative","scale":{"domain":[0,1],"nice":false},"axis":{"title":"G3/(G3+C3)","values":[0,0.1,0.2,0.3,0.4,0.5,0.6,0.7,0.8,0.9,1],"tickCount":30,"format":".1f","labelPadding":9,"titlePadding":1,"labelOverlap":false}},
     "y":{"field":"y","type":"quantitative","scale":{"domain":[0,1],"nice":false},"axis":{"title":"A3/(A3+T3)","values":[0.1,0.2,0.3,0.4,0.5,0.6,0.7,0.8,0.9,1],"tickCount":30,"format":".1f","labelPadding":8.5,"titlePadding":5,"labelOverlap":false}},
     "color":{"field":"g","type":"nominal","scale":{"domain":["CM","AM","EM","MC","LM","NM","GM","MT","TR"],"range":["#EE8A2B","#7E6199","#C7262C","#3F9C46","#1F7EAF","#82C3F6","#F77E7E","#6109A8","#AF2B8F"]},"legend":{"title":null,"padding":9,"offset":-1,"rowPadding":0.9}}
    }},
   {"data":{"values":[{}]},"mark":{"type":"rule","color":"#000","strokeWidth":1.5},"encoding":{"x":{"datum":0.5}}},
   {"data":{"values":[{}]},"mark":{"type":"rule","color":"#000","strokeWidth":1.5},"encoding":{"y":{"datum":0.5}}},
   {"data":{"values":[{}]},"mark":{"type":"text","align":"left","baseline":"middle","fontSize":14,"color":"#222"},"encoding":{"x":{"datum":0.043},"y":{"datum":0.918},"text":{"value":"AC"}}},
   {"data":{"values":[{}]},"mark":{"type":"text","align":"right","baseline":"middle","fontSize":14,"color":"#222"},"encoding":{"x":{"datum":0.955},"y":{"datum":0.918},"text":{"value":"AG"}}},
   {"data":{"values":[{}]},"mark":{"type":"text","align":"left","baseline":"middle","fontSize":14,"color":"#222"},"encoding":{"x":{"datum":0.043},"y":{"datum":0.077},"text":{"value":"TC"}}},
   {"data":{"values":[{}]},"mark":{"type":"text","align":"right","baseline":"middle","fontSize":14,"color":"#222"},"encoding":{"x":{"datum":0.955},"y":{"datum":0.077},"text":{"value":"TG"}}},
   {"data":{"values":[{}]},"mark":{"type":"text","align":"left","baseline":"middle","fontSize":13.5,"fontWeight":"bold","color":"#111"},"encoding":{"x":{"datum":0.043},"y":{"datum":0.805},"text":{"value":"19.3%"}}},
   {"data":{"values":[{}]},"mark":{"type":"text","align":"right","baseline":"middle","fontSize":13.5,"fontWeight":"bold","color":"#111"},"encoding":{"x":{"datum":0.955},"y":{"datum":0.805},"text":{"value":"6.0%"}}},
   {"data":{"values":[{}]},"mark":{"type":"text","align":"left","baseline":"middle","fontSize":13.5,"fontWeight":"bold","color":"#111"},"encoding":{"x":{"datum":0.043},"y":{"datum":0.199},"text":{"value":"58.4%"}}},
   {"data":{"values":[{}]},"mark":{"type":"text","align":"right","baseline":"middle","fontSize":13.5,"fontWeight":"bold","color":"#111"},"encoding":{"x":{"datum":0.955},"y":{"datum":0.199},"text":{"value":"16.3%"}}},
   {"data":{"values":[{}]},"mark":{"type":"text","align":"left","baseline":"middle","fontSize":17,"fontWeight":"bold","color":"#000"},"encoding":{"x":{"datum":-0.168},"y":{"datum":1.144},"text":{"value":"(b)"}}},
   {"data":{"values":[{}]},"mark":{"type":"text","align":"center","baseline":"middle","fontSize":15,"fontWeight":"bold","color":"#000"},"encoding":{"x":{"datum":0.5},"y":{"datum":1.122},"text":{"value":"PR2-plot"}}}
  ]
 },
 {
  "width":281,"height":188,
  "layer":[
   {"data":{"name":"enc"},"mark":{"type":"circle","size":17,"opacity":1},
    "encoding":{
     "x":{"field":"x","type":"quantitative","scale":{"domain":[0,1],"nice":false},"axis":{"title":"GC3s","values":[0,0.1,0.2,0.3,0.4,0.5,0.6,0.7,0.8,0.9,1],"tickCount":30,"format":".1f","labelPadding":8,"titlePadding":5,"labelOverlap":false}},
     "y":{"field":"y","type":"quantitative","scale":{"domain":[20,70],"nice":false},"axis":{"title":"ENc","values":[20,25,30,35,40,45,50,55,60,65,70],"tickCount":30,"labelPadding":8,"titlePadding":7,"labelOverlap":false,"labelBaseline":{"condition":{"test":"datum.value == 20","value":"bottom"},"value":"middle"}}},
     "color":{"field":"g","type":"nominal","scale":{"domain":["CM","AM","EM","MC","LM","NM","GM","MT","TR"],"range":["#EE8A2B","#7E6199","#C7262C","#3F9C46","#1F7EAF","#82C3F6","#F77E7E","#6109A8","#AF2B8F"]},"legend":{"title":null,"padding":5,"offset":4,"rowPadding":1.4}}
    }},
   {"data":{"name":"curve"},"mark":{"type":"line","color":"#000","strokeWidth":1.8,"interpolate":"monotone"},"encoding":{"x":{"field":"x","type":"quantitative"},"y":{"field":"y","type":"quantitative"}}},
   {"data":{"values":[{}]},"mark":{"type":"text","align":"left","baseline":"middle","fontSize":17,"fontWeight":"bold","color":"#000"},"encoding":{"x":{"datum":-0.218},"y":{"datum":75.9},"text":{"value":"(c)"}}},
   {"data":{"values":[{}]},"mark":{"type":"text","align":"center","baseline":"middle","fontSize":15,"fontWeight":"bold","color":"#000"},"encoding":{"x":{"datum":0.5},"y":{"datum":76.2},"text":{"value":"ENc-GC3s plot"}}}
  ]
 },
 {
  "width":280,"height":188,
  "layer":[
   {"data":{"name":"neu"},"mark":{"type":"circle","size":17,"opacity":1},
    "encoding":{
     "x":{"field":"x","type":"quantitative","scale":{"domain":[0,100],"nice":false},"axis":{"title":"GC3(%)","values":[0,10,20,30,40,50,60,70,80,90,100],"tickCount":30,"labelFontSize":11,"labelPadding":9,"titlePadding":4,"labelOverlap":false}},
     "y":{"field":"y","type":"quantitative","scale":{"domain":[0,100],"nice":false},"axis":{"title":"GC12(%)","values":[0,10,20,30,40,50,60,70,80,90,100],"tickCount":30,"labelFontSize":11,"labelPadding":8,"titlePadding":5,"labelOverlap":false}},
     "color":{"field":"g","type":"nominal","scale":{"domain":["CM","AM","EM","MC","LM","NM","GM","MT","TR"],"range":["#EE8A2B","#7E6199","#C7262C","#3F9C46","#1F7EAF","#82C3F6","#F77E7E","#6109A8","#AF2B8F"]},"legend":{"title":null,"padding":5,"offset":8,"rowPadding":1.4}}
    }},
   {"data":{"values":[{"x":0,"y":0},{"x":100,"y":100}]},"mark":{"type":"line","color":"#000","strokeWidth":1.5,"strokeDash":[5,4]},"encoding":{"x":{"field":"x","type":"quantitative"},"y":{"field":"y","type":"quantitative"}}},
   {"data":{"values":[{"x":40,"y":50.17},{"x":95,"y":53.22}]},"mark":{"type":"line","color":"#000","strokeWidth":1.5},"encoding":{"x":{"field":"x","type":"quantitative"},"y":{"field":"y","type":"quantitative"}}},
   {"data":{"values":[{}]},"mark":{"type":"text","align":"left","baseline":"middle","fontSize":12,"fontWeight":"bold","color":"#000"},"encoding":{"x":{"datum":7.4},"y":{"datum":92.3},"text":{"value":"Y=0.05552X+47.95"}}},
   {"data":{"values":[{}]},"mark":{"type":"text","align":"left","baseline":"middle","fontSize":12,"fontWeight":"bold","color":"#000"},"encoding":{"x":{"datum":7.4},"y":{"datum":83.8},"text":{"value":"R²=0.0161"}}},
   {"data":{"values":[{}]},"mark":{"type":"text","align":"left","baseline":"middle","fontSize":17,"fontWeight":"bold","color":"#000"},"encoding":{"x":{"datum":-16.8},"y":{"datum":112.4},"text":{"value":"(d)"}}},
   {"data":{"values":[{}]},"mark":{"type":"text","align":"center","baseline":"middle","fontSize":15,"fontWeight":"bold","color":"#000"},"encoding":{"x":{"datum":51},"y":{"datum":112.9},"text":{"value":"Neutrality plot"}}}
  ]
 }
]
}
